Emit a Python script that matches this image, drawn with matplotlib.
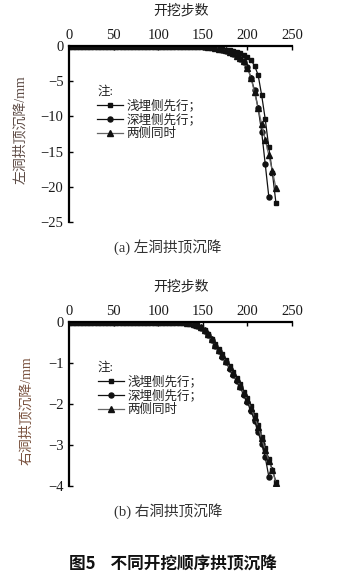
import matplotlib
matplotlib.use("Agg")
import matplotlib.pyplot as plt

plt.rcParams['font.family'] = ['Liberation Serif', 'Noto Sans CJK SC', 'DejaVu Sans']
plt.rcParams['axes.unicode_minus'] = True

# ---------------- data ----------------
steps_long = [0, 4, 8, 12, 16, 20, 24, 28, 32, 36, 40, 44, 48, 52, 56, 60, 64, 68, 72, 76,
              80, 84, 88, 92, 96, 100, 104, 108, 112, 116, 120, 124, 128, 132, 136, 140,
              144, 148, 152, 156, 160, 164, 168, 172, 176, 180, 184, 188, 192, 196, 200,
              204, 208, 212, 216, 220, 224, 228, 232]
steps_short = steps_long[:57]  # 0 ... 224

zeros_33 = [0.0] * 33  # flat part, steps 0 ... 128

# (a) left tunnel crown settlement (mm)
left_shallow = zeros_33 + [-0.01, -0.02, -0.03, -0.05, -0.07, -0.10, -0.14, -0.19, -0.25,
                           -0.32, -0.40, -0.50, -0.60, -0.72, -0.87, -1.05, -1.30, -1.60,
                           -2.00, -2.80, -4.10, -7.00, -10.40, -14.40, -18.00, -22.30]
left_deep = zeros_33 + [-0.01, -0.01, -0.02, -0.03, -0.05, -0.08, -0.13, -0.20, -0.28,
                        -0.38, -0.50, -0.65, -0.85, -1.10, -1.40, -1.80, -2.30, -3.00,
                        -4.50, -6.30, -8.80, -12.20, -16.80, -21.40]
left_both = zeros_33 + [-0.01, -0.01, -0.02, -0.03, -0.05, -0.07, -0.12, -0.18, -0.26,
                        -0.36, -0.48, -0.62, -0.82, -1.05, -1.35, -1.75, -2.20, -3.10,
                        -4.50, -6.60, -8.80, -11.10, -13.30, -15.50, -17.70, -20.20]

# (b) right tunnel crown settlement (mm)
zeros_32 = [0.0] * 32  # steps 0 ... 124
right_shallow = zeros_32 + [-0.01, -0.02, -0.04, -0.06, -0.09, -0.13, -0.20, -0.30, -0.42,
                            -0.54, -0.66, -0.79, -0.93, -1.08, -1.22, -1.37, -1.52, -1.70,
                            -1.86, -2.06, -2.27, -2.52, -2.80, -3.08, -3.35, -3.60, -3.90]
right_deep = zeros_32 + [-0.01, -0.02, -0.04, -0.07, -0.10, -0.15, -0.22, -0.33, -0.45,
                         -0.58, -0.71, -0.85, -0.99, -1.14, -1.29, -1.44, -1.60, -1.78,
                         -1.96, -2.17, -2.41, -2.68, -2.98, -3.30, -3.77]
right_both = zeros_32 + [-0.01, -0.02, -0.04, -0.06, -0.09, -0.14, -0.21, -0.31, -0.43,
                         -0.56, -0.68, -0.82, -0.96, -1.11, -1.26, -1.40, -1.56, -1.74,
                         -1.90, -2.10, -2.31, -2.56, -2.84, -3.12, -3.38, -3.62, -3.92]

labels = ['浅埋侧先行；', '深埋侧先行；', '两侧同时']
x_ticks = [0, 50, 100, 150, 200, 250]
ylims = [(-25, 0), (-4, 0)]
y_ticks = [[0, -5, -10, -15, -20, -25], [0, -1, -2, -3, -4]]
ylabels = ['左洞拱顶沉降/mm', '右洞拱顶沉降/mm']
captions = ['(a) 左洞拱顶沉降', '(b) 右洞拱顶沉降']
xlabel = '开挖步数'
fig_title = '图5    不同开挖顺序拱顶沉降'

series = [
    [(steps_long, left_shallow), (steps_short, left_deep), (steps_long, left_both)],
    [(steps_long, right_shallow), (steps_short, right_deep), (steps_long, right_both)],
]

W, H = 337, 586
fig = plt.figure(figsize=(W / 100, H / 100), dpi=100)

# axes boxes in pixels: left, top, right, bottom
boxes = [(69, 46, 292, 222), (69, 321.7, 292, 486)]
ylabel_x = [27, 33]
ylabel_colors = ['#5e4c46', '#7a5340']
legend_pos = [(97, 86), (98, 362)]
caption_y = [247, 511.5]

markers = ['s', 'o', '^']
msizes = [3.4, 3.6, 4.0]
line_colors = ['#111111', '#111111', '#666666']

serif_cjk = ['Liberation Serif', 'Noto Sans CJK SC']

for i, (l, t, r, b) in enumerate(boxes):
    ax = fig.add_axes([l / W, 1 - b / H, (r - l) / W, (b - t) / H])
    for j, (xs, ys) in enumerate(series[i]):
        ax.plot(xs, ys, marker=markers[j], markersize=msizes[j],
                color=line_colors[j], markerfacecolor='#111111',
                markeredgecolor='#111111', lw=0.9, label=labels[j])
    ax.set_xlim(0, 250)
    ax.set_ylim(*ylims[i])
    ax.set_xticks(x_ticks)
    ax.set_yticks(y_ticks[i])
    ax.spines['right'].set_visible(False)
    ax.spines['bottom'].set_visible(False)
    ax.spines['top'].set_linewidth(1.6)
    ax.spines['left'].set_linewidth(1.6)
    ax.xaxis.tick_top()
    ax.tick_params(axis='x', direction='in', length=3, width=1, pad=3,
                   labelsize=10.5, top=True, bottom=False, labeltop=True, labelbottom=False)
    ax.tick_params(axis='y', direction='in', length=3, width=1, pad=4, labelsize=10.5)
    for lab in ax.get_xticklabels() + ax.get_yticklabels():
        lab.set_family('Liberation Serif')
        lab.set_color('#1a1a1a')

    ax.xaxis.set_label_position('top')
    ax.set_xlabel(xlabel, family=serif_cjk, fontsize=10, color='#222222')
    ax.xaxis.set_label_coords((181 - l) / (r - l), (b - (15 if i == 0 else 290.5)) / (b - t))

    ax.set_ylabel(ylabels[i], family=serif_cjk, fontsize=10, color=ylabel_colors[i])
    yc = 130 if i == 0 else 411
    ax.yaxis.set_label_coords((ylabel_x[i] - l) / (r - l), (b - yc) / (b - t))

    lx, ly = legend_pos[i]
    leg = ax.legend(loc='upper left',
                    bbox_to_anchor=((lx - l) / (r - l), (b - ly) / (b - t)),
                    frameon=False, title='注:', alignment='left',
                    prop={'family': serif_cjk, 'size': 9},
                    title_fontproperties={'family': serif_cjk, 'size': 9},
                    handlelength=2.1, handletextpad=0.25, labelspacing=0.12,
                    borderpad=0, borderaxespad=0)
    for txt in leg.get_texts():
        txt.set_color('#222222')
    leg.get_title().set_color('#222222')

    fig.text(168 / W, 1 - caption_y[i] / H, captions[i], ha='center', va='center',
             family=serif_cjk, fontsize=10.5, color='#333333')

fig.text(173 / W, 1 - 565 / H, fig_title, ha='center', va='center',
         family=['Noto Sans CJK SC', 'DejaVu Sans'], fontsize=12, fontweight='bold',
         color='#111111')

fig.savefig('out.png', dpi=100)
